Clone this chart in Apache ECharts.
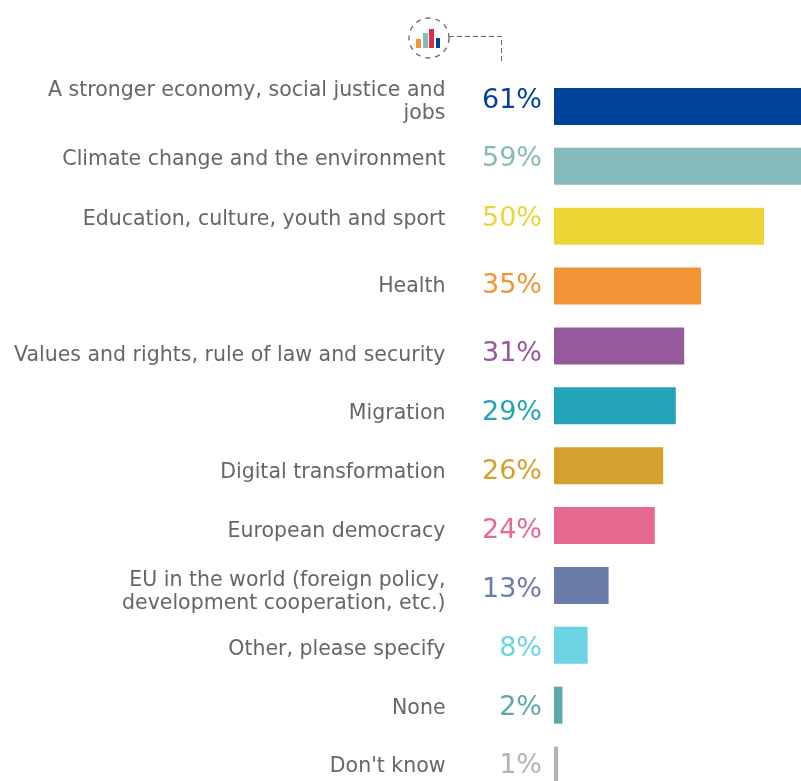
<!DOCTYPE html>
<html><head><meta charset="utf-8">
<style>html,body{margin:0;padding:0;background:#fff}#c{width:801px;height:781px}</style>
<script src="https://cdn.jsdelivr.net/npm/echarts@6/dist/echarts.min.js"></script>
</head><body><div id="c"></div>
<script>
const categories = ["A stronger economy, social justice and\njobs","Climate change and the environment","Education, culture, youth and sport","Health","Values and rights, rule of law and security","Migration","Digital transformation","European democracy","EU in the world (foreign policy,\ndevelopment cooperation, etc.)","Other, please specify","None","Don't know"];
const values = [61,59,50,35,31,29,26,24,13,8,2,1];
const colors = ["#004299","#85BBBB","#EED536","#F39536","#955A9C","#23A4B8","#D4A030","#E66A8F","#6B7BAA","#6BD3E3","#5FA8A8","#B3B3B3"];
const valueShift = [-5,-7,-7,0,8,7,6,5,5,4,3,1];
const categoryShift = [-4,-6.5,-7,1,10,8,7,6,6.5,4,3,2];
const fontFamily = '"DejaVu Sans", Verdana, sans-serif';

const chart = echarts.init(document.getElementById('c'), null, {renderer:'canvas'});
const rich = {};
categoryShift.forEach((s,i)=>{
  rich['r'+i] = {fontFamily, fontSize:20.5, color:'#666666', lineHeight:23, align:'right',
    padding: s<0 ? [0,0,-2*s,0] : [2*s,0,0,0]};
});
chart.setOption({
  animation:false,
  backgroundColor:'#fff',
  grid:{left:554, top:76.5, width:420, height:718.5, containLabel:false, outerBoundsMode:'none'},
  xAxis:{type:'value', min:0, max:100, show:false},
  yAxis:{type:'category', inverse:true, data:categories,
    axisLine:{show:false}, axisTick:{show:false},
    axisLabel:{margin:108.5, align:'right', fontFamily, fontSize:20.5, color:'#666666', lineHeight:23,
      interval:0, hideOverlap:false,
      formatter:(v,i)=>`{r${i}|${v}}`, rich}},
  series:[{type:'bar', barWidth:37, clip:false,
    data:values.map((v,i)=>({value:v,
      itemStyle:{color:colors[i]},
      label:{color:colors[i], offset:[0,valueShift[i]]}})),
    label:{show:true, position:'left', distance:12, fontFamily, fontSize:27, formatter:'{c}%'}}],
  graphic:[
    {type:'circle', shape:{cx:429,cy:38,r:20}, style:{fill:'none',stroke:'#666',lineWidth:1.3,lineDash:[5,5]}},
    {type:'polyline', shape:{points:[[449,36.5],[501.5,36.5],[501.5,64]]}, style:{fill:'none',stroke:'#666',lineWidth:1,lineDash:[5,3]}},
    {type:'rect', shape:{x:416,y:39,width:5,height:9}, style:{fill:'#F39536'}},
    {type:'rect', shape:{x:423,y:33,width:5,height:15}, style:{fill:'#85BBBB'}},
    {type:'rect', shape:{x:429,y:29,width:5,height:19}, style:{fill:'#DC2F45'}},
    {type:'rect', shape:{x:436,y:38,width:4,height:10}, style:{fill:'#004299'}}
  ]
});
</script></body></html>
